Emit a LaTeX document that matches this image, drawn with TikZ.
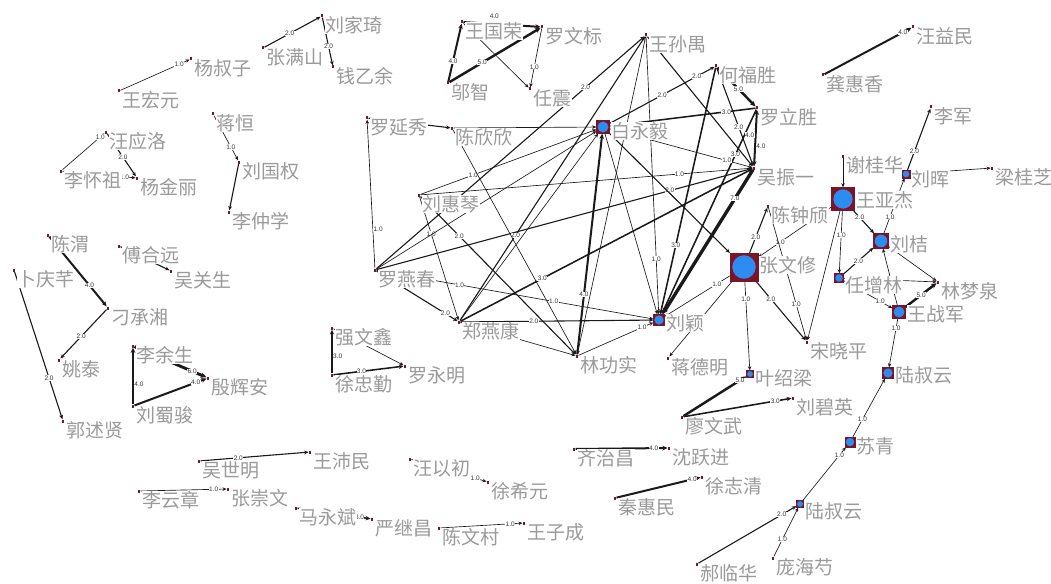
\documentclass[tikz,border=0pt]{standalone}
\usepackage{fontspec}
\setsansfont{Liberation Sans}
\newfontfamily\cjkfont{Noto Sans CJK SC}
\usetikzlibrary{arrows.meta}
\definecolor{nodeRed}{HTML}{7A1426}
\definecolor{nodeBlue}{HTML}{2E8BF0}
\definecolor{nameGrey}{HTML}{9A9A9A}
\definecolor{tieGrey}{HTML}{1A1A1A}
\pgfdeclarelayer{background}
\pgfsetlayers{background,main}

\begin{document}
\begin{tikzpicture}[x=1pt, y=-1pt,
    pdot/.style={fill=nodeRed, inner sep=0pt, minimum width=2.6pt, minimum height=3pt},
    hub/.style={draw=nodeRed, fill=nodeRed, line width=0.4pt, inner sep=0pt, minimum size=#1*1pt,
      path picture={\fill[nodeBlue] (path picture bounding box.center) circle[radius=#1*0.42pt];}},
    pname/.style={font=\cjkfont\fontsize{19}{21}\selectfont, text=nameGrey, fill=white, inner sep=0.5pt, anchor=west},
    tie/.style={draw=tieGrey, line width=#1*0.45pt+0.2pt, -{Stealth[length=3.5pt 0.8, width=3pt 0.8]}},
    wt/.style={font=\sffamily\fontsize{6.5}{7}\selectfont, text=black!80, fill=white, inner sep=0.4pt}]
  \useasboundingbox (0,0) rectangle (1051,583);
  \begin{pgfonlayer}{background}
    \fill[white] (0,0) rectangle (1051,583);
  \end{pgfonlayer}

  \foreach \id/\x/\y/\txt in {
      liuJiaqi/322/16/刘家琦, zhangManshan/263/48/张满山, qianYiyu/333/67/钱乙余,
      yangShuzi/191/59/杨叔子, wangHongyuan/119/91/王宏元, jiangHeng/213/114/蒋恒,
      liuGuoquan/239/162/刘国权, liZhongxue/229/212/李仲学, wangYingluo/106/132/汪应洛,
      liHuaizu/61/171/李怀祖, yangJinli/137/178/杨金丽, wangGuorong/462/22/王国荣,
      luoWenbiao/542/27/罗文标, wuZhi/448/83/邬智, renZhen/530/89/任震,
      wangSunyu/646/35/王孙禺, heFusheng/716/66/何福胜, luoLisheng/757/108/罗立胜,
      wuZhenyi/754/168/吴振一, luoYanxiu/367/118/罗延秀, chenXinxin/452/128/陈欣欣,
      liuHuiqin/419/195/刘惠琴, luoYanchun/375/270/罗燕春, zhengYankang/459/322/郑燕康,
      linGongshi/577/356/林功实, chenZhongqi/768/206/陈钟颀, songXiaoping/807/342/宋晓平,
      jiangDeming/668/358/蒋德明, wangYimin/913/27/汪益民, gongHuixiang/823/75/龚惠香,
      liJun/931/107/李军, liangGuizhi/992/168/梁桂芝, xieGuihua/843/156/谢桂华,
      linMengquan/938/282/林梦泉, chenWei/48/235/陈渭, fuHeyuan/119/246/傅合远,
      wuGuansheng/171/271/吴关生, buQingqian/14/270/卜庆芊, diaoChengxiang/108/308/刁承湘,
      yaoTai/59/360/姚泰, liYusheng/133/346/李余生, yinHuian/208/378/殷辉安,
      liuShujun/133/406/刘蜀骏, guoShuxian/63/421/郭述贤, qiangWenxin/332/328/强文鑫,
      xuZhongqin/332/375/徐忠勤, luoYongming/405/366/罗永明, wuShiming/199/461/吴世明,
      wangPeimin/310/452/王沛民, liYunzhang/139/491/李云章, zhangChongwen/228/489/张崇文,
      maYongbin/296/508/马永斌, yanJichang/372/519/严继昌, chenWencun/439/528/陈文村,
      wangZicheng/524/523/王子成, wangYichu/410/459/汪以初, xuXiyuan/488/482/徐希元,
      qiZhichang/574/449/齐治昌, shenYuejin/669/448/沈跃进, qinHuimin/615/498/秦惠民,
      xuZhiqing/702/477/徐志清, liaoWenwu/682/417/廖文武, liuBiying/793/398/刘碧英,
      haoLinhua/697/564/郝临华, pangHaishao/773/558/庞海芍}
    {\node[pdot] (\id) at (\x,\y) {};
     \node[pname] at ([shift={(3,9)}]\id) {\txt};}

  \foreach \id/\x/\y/\s/\dy/\txt in {
      baiYongyi/603/127/13/4/白永毅, liuYing/659/320/11/3/刘颖, zhangWenxiu/744/267/28/-2/张文修,
      wangYajie/843/199/23/1/王亚杰, liuJie/881/241/15/3/刘桔, wangZhanjun/899/312/13/2/王战军,
      luShuyunA/888/373/11/2/陆叔云, suQing/850/442/10/4/苏青, renZenglin/839/278/9/7/任增林,
      liuHui/906/174/8/5/刘晖, yeShaoliang/750/374/7/4/叶绍梁, luShuyunB/800/504/7/7/陆叔云}
    {\node[hub=\s] (\id) at (\x,\y) {};
     \node[pname] at ([shift={(\s/2+1,\dy)}]\id) {\txt};}

  \begin{pgfonlayer}{background}
    \foreach \a/\b/\w/\p in {
        zhangManshan/liuJiaqi/2/.45, liuJiaqi/qianYiyu/2/.6, wangHongyuan/yangShuzi/1/.85,
        jiangHeng/liuGuoquan/1/.7, liHuaizu/wangYingluo/1/.9, wangYingluo/yangJinli/2/.55,
        liHuaizu/yangJinli/1/.85, wuZhi/wangGuorong/4/.35, wuZhi/luoWenbiao/5/.36,
        luoWenbiao/renZhen/1/.65, gongHuixiang/wangYimin/4/.9, liuHui/liJun/2/.3,
        wangYajie/liuJie/2/.3, wangYajie/renZenglin/1/.4, renZenglin/liuJie/2/.5,
        liuJie/liuHui/1/.3, wangZhanjun/linMengquan/5/.5, renZenglin/wangZhanjun/1/.75,
        wangZhanjun/luShuyunA/1/.2, suQing/luShuyunA/1/.3, luShuyunB/suQing/1/.85,
        haoLinhua/luShuyunB/2/.85, pangHaishao/luShuyunB/1/.35, chenWei/diaoChengxiang/4/.7,
        diaoChengxiang/yaoTai/2/.55, buQingqian/guoShuxian/2/.72, liYusheng/yinHuian/6/.8,
        liuShujun/yinHuian/4/.85, xuZhongqin/luoYongming/3/.4, wuShiming/wangPeimin/2/.35,
        liYunzhang/zhangChongwen/1/.85, maYongbin/yanJichang/3/.85, wangYichu/xuXiyuan/1/.85,
        chenWencun/wangZicheng/1/.85, qiZhichang/shenYuejin/4/.85, qinHuimin/xuZhiqing/4/.9,
        liaoWenwu/yeShaoliang/5/.9, liaoWenwu/liuBiying/3/.85, liuHuiqin/baiYongyi/1/.3,
        luoYanchun/wangSunyu/2/.78, liuHuiqin/linGongshi/2/.25, luoYanchun/wuZhenyi/2/.78,
        luoYanchun/zhengYankang/2/.85, zhengYankang/liuYing/2/.38, zhengYankang/wuZhenyi/3/.28,
        zhengYankang/wangSunyu/2/.3, liuHuiqin/zhengYankang/1/.3, linGongshi/baiYongyi/4/.27,
        linGongshi/liuYing/1/.85, wangSunyu/liuYing/1/.8, heFusheng/liuYing/3/.72,
        luoLisheng/liuYing/3/.22, wuZhenyi/liuYing/7/.2, luoLisheng/baiYongyi/3/.2,
        heFusheng/luoLisheng/5/.55, heFusheng/wuZhenyi/2/.6, baiYongyi/wuZhenyi/1/.82,
        liuHuiqin/wuZhenyi/1/.78, zhangWenxiu/chenZhongqi/2/.35, zhangWenxiu/songXiaoping/2/.3,
        zhangWenxiu/yeShaoliang/1/.2, zhangWenxiu/liuYing/1/.2, wangYajie/zhangWenxiu/1/.7,
        chenZhongqi/songXiaoping/1/.73}
      \draw[tie=\w] (\a) -- node[wt, pos=\p] {\w.0} (\b);
    \foreach \a/\b/\w in {
        liuGuoquan/liZhongxue/2, wangGuorong/renZhen/1, liuHui/liangGuizhi/1, xieGuihua/wangYajie/1,
        wangZhanjun/liuJie/1, liuJie/linMengquan/1, renZenglin/linMengquan/1, fuHeyuan/wuGuansheng/2,
        qiangWenxin/luoYongming/1, luoYanxiu/chenXinxin/2, chenXinxin/baiYongyi/1,
        luoYanchun/baiYongyi/1, zhengYankang/linGongshi/1, zhengYankang/baiYongyi/1,
        chenXinxin/linGongshi/1, wangSunyu/linGongshi/1, wangSunyu/wuZhenyi/2, baiYongyi/liuYing/1,
        baiYongyi/zhangWenxiu/2, zhangWenxiu/jiangDeming/1, wangYajie/songXiaoping/1}
      \draw[tie=\w] (\a) -- (\b);
    \draw[tie=4] (wangGuorong) -- node[wt, above=4pt, pos=.4] {4.0} (luoWenbiao);
    \draw[tie=4] (liuShujun) -- node[wt, right, pos=.35] {4.0} (liYusheng);
    \draw[tie=3] (xuZhongqin) -- node[wt, right, pos=.4] {3.0} (qiangWenxin);
    \draw[tie=1] (luoYanchun) -- node[wt, right, pos=.26] {1.0} (luoYanxiu);
    \draw[tie=2] (baiYongyi) -- node[wt, pos=.5] {2.0} node[wt, pos=.83] {2.0} (heFusheng);
    \draw[tie=1] (luoYanchun) -- node[wt, pos=.3] {1.0} node[wt, pos=.64] {1.0} (liuYing);
    \draw[tie=4, {Stealth[length=3.5pt 0.8, width=3pt 0.8]}-{Stealth[length=3.5pt 0.8, width=3pt 0.8]}]
      (luoLisheng) -- node[wt, left, pos=.45] {4.0} node[wt, right, pos=.65] {4.0} (wuZhenyi);
  \end{pgfonlayer}
\end{tikzpicture}
\end{document}
